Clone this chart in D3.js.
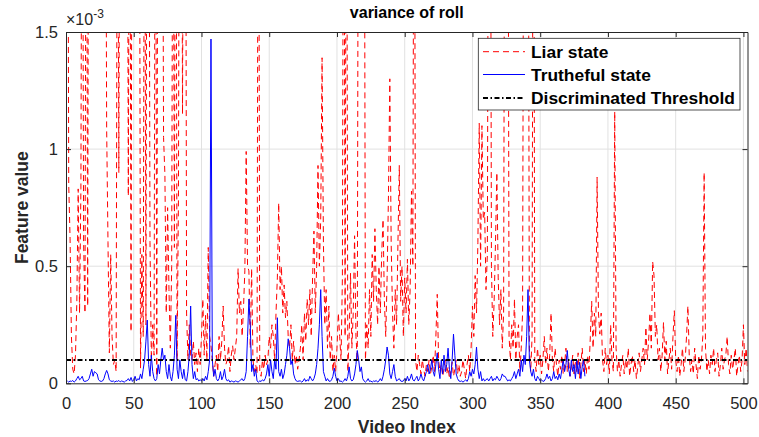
<!DOCTYPE html>
<html>
<head>
<meta charset="utf-8">
<script src="https://cdn.jsdelivr.net/npm/d3@7"></script>
<style>
  body { margin: 0; background: #fff; }
  text { font-family: "Liberation Sans", Arial, Helvetica, sans-serif; }
</style>
</head>
<body>
<svg id="chart" width="759" height="437"></svg>
<script>
// feature values, in units of 1e-3 (video index 1..n)
const liar = [
  3.4, 0.85, 0.62, 0.2, 0.06, 0.04, 0.12, 0.35, 0.83, 0.3,
  0.83, 3.1, 0.6, 0.3, 2.9, 0.33, 3.6, 4.2, 3.8, 4.5,
  3.9, 3.6, 4.4, 3.2, 4.8, 3.5, 4.1, 3.7, 3.0, 1.09, 0.6,
  0.13, 0.55, 0.2, 0.08, 0.1, 0.05, 2.8, 0.9, 3.3, 4.0,
  3.6, 4.3, 3.8, 3.1, 0.8, 2.9, 0.22, 3.2, 4.1, 3.7,
  4.4, 3.9, 3.0, 0.065, 0.55, 0.2, 2.7, 0.25, 3.3, 3.1,
  0.6, 0.1, 0.25, 0.12, 2.9, 0.03, 3.2, 3.9, 3.5, 3.0,
  1.05, 0.89, 0.3, 0.75, 0.4, 0.15, 0.5, 2.8, 0.58, 3.1,
  0.1, 0.79, 3.4, 3.2, 1.15, 3.0, 3.6, 0.3, 0.1, 0.25,
  0.12, 0.1, 0.18, 0.08, 0.13, 0.05, 0.15, 0.08, 0.2, 0.36,
  0.12, 0.29, 0.1, 0.58, 0.2, 0.16, 0.1, 0.03, 0.08, 0.12,
  0.05, 0.2, 0.1, 0.18, 0.33, 0.15, 0.08, 0.1, 0.16, 0.05,
  0.12, 0.16, 0.1, 0.15, 0.2, 0.49, 0.3, 0.35, 0.2, 0.32,
  0.48, 0.99, 0.5, 0.48, 0.15, 0.49, 0.1, 0.05, 0.08, 0.04,
  3.2, 0.05, 0.03, 0.1, 0.06, 0.12, 0.08, 0.1, 0.2, 0.15,
  0.25, 0.2, 0.1, 0.3, 0.45, 0.77, 0.4, 0.5, 0.3, 0.42,
  0.28, 0.35, 0.2, 0.15, 0.25, 0.1, 0.18, 0.08, 0.12, 0.06, 0.1,
  0.15, 0.25, 0.1, 0.3, 0.18, 0.36, 0.25, 0.4, 0.2, 0.45,
  0.65, 0.3, 0.5, 0.93, 0.5, 0.7, 1.39, 0.6, 0.25, 0.4,
  0.15, 0.33, 0.1, 0.2, 0.05, 0.12, 0.05, 0.15, 0.3, 0.2,
  0.1, 0.45, 3.1, 0.2, 2.9, 0.05, 0.2, 0.47, 0.15, 0.3,
  0.63, 0.2, 0.1, 3.3, 3.8, 4.2, 3.6, 3.0, 0.1, 0.25,
  0.15, 0.4, 0.2, 0.55, 0.35, 0.66, 0.4, 0.25, 0.5, 0.3,
  0.55, 0.7, 0.35, 0.2, 0.45, 0.8, 1.3, 0.6, 0.3, 0.15,
  0.4, 0.25, 0.6, 0.93, 0.35, 0.5, 0.2, 0.45, 0.3, 0.53,
  0.25, 0.4, 0.82, 0.5, 3.2, 0.1, 0.05, 0.12, 0.08, 0.04,
  0.1, 0.06, 0.03, 0.08, 0.05, 0.1, 0.04, 0.07, 0.12, 0.05,
  0.2, 0.38, 0.1, 0.05, 0.08, 0.03, 0.06, 0.1, 0.04, 0.07,
  0.02, 0.05, 0.09, 0.03, 0.06, 0.1, 0.04, 0.08, 0.03, 0.05,
  0.1, 0.06, 0.02, 0.08, 0.12, 0.05, 0.15, 0.33, 0.2, 0.46,
  0.3, 0.6, 1.11, 0.5, 1.1, 0.7, 0.73, 0.4, 0.55, 3.0,
  3.4, 0.5, 0.2, 0.35, 0.6, 0.9, 0.45, 0.25, 0.4, 0.15,
  0.3, 3.1, 3.7, 3.3, 0.2, 0.1, 0.25, 0.15, 0.36, 0.1, 0.2,
  0.25, 0.05, 0.15, 0.3, 2.9, 3.5, 3.2, 3.0, 0.15, 0.05,
  0.2, 3.1, 0.1, 0.05, 0.15, 0.08, 0.12, 0.04, 0.1, 0.2,
  0.08, 0.15, 0.05, 0.12, 0.3, 0.1, 0.05, 0.15, 0.08, 0.03,
  0.1, 0.06, 0.12, 0.04, 0.08, 0.15, 0.05, 0.1, 0.03, 0.07,
  0.12, 0.04, 0.09, 0.05, 0.13, 0.02, 0.08, 0.15, 0.05, 0.1,
  0.04, 0.12, 0.06, 0.2, 0.35, 0.15, 0.3, 0.2, 0.88, 0.3,
  0.21, 0.3, 0.1, 0.05, 0.15, 0.08, 0.12, 0.04, 0.25, 0.1,
  0.05, 1.16, 0.15, 0.05, 0.1, 0.03, 0.08, 0.12, 0.04, 0.1,
  0.06, 0.15, 0.03, 0.08, 0.12, 0.05, 0.1, 0.02, 0.07, 0.13,
  0.05, 0.1, 0.15, 0.08, 0.24, 0.1, 0.18, 0.3, 0.15, 0.52,
  0.46, 0.2, 0.25, 0.1, 0.15, 0.05, 0.12, 0.26, 0.1, 0.18,
  0.04, 0.1, 0.15, 0.06, 0.2, 0.31, 0.1, 0.05, 0.12, 0.03,
  0.08, 0.15, 0.05, 0.1, 0.2, 0.33, 0.12, 0.05, 0.1, 0.04,
  0.15, 0.08, 0.02, 0.12, 0.06, 0.1, 0.2, 0.9, 0.15, 0.05,
  0.1, 0.04, 0.12, 0.08, 0.15, 0.05, 0.1, 0.13, 0.03, 0.08,
  0.15, 0.06, 0.1, 0.12, 0.2, 0.08, 0.04, 0.12, 0.06, 0.1,
  0.15, 0.03, 0.08, 0.12, 0.05, 0.1, 0.25, 0.08, 0.15, 0.05
];

const truth = [
  0.01, 0.005, 0.01, 0.008, 0.012, 0.005, 0.01, 0.02, 0.03, 0.015,
  0.02, 0.03, 0.01, 0.008, 0.01, 0.012, 0.02, 0.04, 0.06, 0.03,
  0.05, 0.045, 0.04, 0.015, 0.01, 0.008, 0.01, 0.02, 0.04, 0.055, 0.04,
  0.015, 0.01, 0.008, 0.01, 0.005, 0.01, 0.008, 0.012, 0.006, 0.01,
  0.008, 0.005, 0.01, 0.012, 0.02, 0.01, 0.025, 0.008, 0.015, 0.03,
  0.01, 0.02, 0.015, 0.04, 0.02, 0.06, 0.1, 0.18, 0.27, 0.08,
  0.03, 0.12, 0.05, 0.02, 0.01, 0.02, 0.08, 0.04, 0.1, 0.15,
  0.1, 0.12, 0.05, 0.02, 0.08, 0.03, 0.01, 0.05, 0.12, 0.29,
  0.06, 0.02, 0.1, 0.05, 0.02, 0.06, 0.015, 0.01, 0.05, 0.12,
  0.33, 0.08, 0.02, 0.05, 0.015, 0.02, 0.01, 0.015, 0.01, 0.02,
  0.01, 0.03, 0.015, 0.05, 0.1, 1.47, 0.1, 0.03, 0.06, 0.02,
  0.01, 0.02, 0.05, 0.015, 0.03, 0.06, 0.02, 0.01, 0.015, 0.005,
  0.01, 0.008, 0.005, 0.01, 0.008, 0.005, 0.01, 0.015, 0.02, 0.01,
  0.02, 0.05, 0.2, 0.36, 0.25, 0.05, 0.08, 0.03, 0.06, 0.01,
  0.005, 0.01, 0.008, 0.015, 0.01, 0.02, 0.04, 0.08, 0.03, 0.1,
  0.05, 0.02, 0.1, 0.06, 0.28, 0.05, 0.03, 0.06, 0.02, 0.04,
  0.08, 0.12, 0.19, 0.15, 0.08, 0.1, 0.04, 0.02, 0.01, 0.008, 0.01,
  0.01, 0.005, 0.01, 0.02, 0.008, 0.015, 0.01, 0.03, 0.02, 0.01,
  0.02, 0.04, 0.08, 0.15, 0.25, 0.4, 0.2, 0.05, 0.03, 0.01,
  0.02, 0.01, 0.008, 0.015, 0.03, 0.065, 0.03, 0.01, 0.02, 0.008,
  0.01, 0.005, 0.01, 0.02, 0.01, 0.03, 0.07, 0.02, 0.01, 0.015,
  0.04, 0.08, 0.14, 0.1, 0.05, 0.07, 0.02, 0.01, 0.005, 0.01,
  0.02, 0.008, 0.01, 0.005, 0.01, 0.008, 0.012, 0.005, 0.01, 0.02,
  0.01, 0.03, 0.06, 0.1, 0.155, 0.12, 0.04, 0.02, 0.05, 0.08,
  0.03, 0.01, 0.015, 0.02, 0.01, 0.008, 0.01, 0.02, 0.01, 0.03,
  0.01, 0.02, 0.04, 0.015, 0.01, 0.02, 0.03, 0.01, 0.02, 0.04,
  0.02, 0.01, 0.03, 0.05, 0.08, 0.04, 0.06, 0.1, 0.05, 0.03,
  0.08, 0.13, 0.06, 0.02, 0.1, 0.04, 0.12, 0.05, 0.08, 0.15,
  0.06, 0.02, 0.1, 0.21, 0.12, 0.04, 0.02, 0.01, 0.008, 0.01,
  0.005, 0.01, 0.015, 0.008, 0.02, 0.05, 0.03, 0.06, 0.04, 0.08,
  0.155, 0.06, 0.02, 0.05, 0.01, 0.02, 0.01, 0.015, 0.02, 0.01,
  0.02, 0.03, 0.01, 0.02, 0.015, 0.03, 0.02, 0.01, 0.02, 0.04, 0.03,
  0.03, 0.02, 0.01, 0.015, 0.01, 0.02, 0.03, 0.05, 0.02, 0.04,
  0.06, 0.03, 0.1, 0.05, 0.12, 0.08, 0.2, 0.4, 0.1, 0.05,
  0.03, 0.06, 0.02, 0.01, 0.03, 0.02, 0.01, 0.015, 0.008, 0.01,
  0.02, 0.04, 0.02, 0.03, 0.01, 0.02, 0.05, 0.02, 0.03, 0.015,
  0.04, 0.02, 0.06, 0.1, 0.05, 0.08, 0.14, 0.06, 0.03, 0.1,
  0.05, 0.08, 0.02, 0.1, 0.04, 0.09, 0.02, 0.07, 0.1, 0.03
];

const threshold = 0.1;
const xTicks = [0, 50, 100, 150, 200, 250, 300, 350, 400, 450, 500];
const yTicks = [0, 0.5, 1, 1.5];
const legendNames = ['Liar state', 'Trutheful state', 'Discriminated Threshold'];

const W = 759, H = 437;
const margin = { top: 32, right: 11.5, bottom: 53.7, left: 66 };
const xMax = 503;
const axisColor = '#262626';

const svg = d3.select('#chart');

const x = d3.scaleLinear().domain([0, xMax]).range([margin.left, W - margin.right]);
const y = d3.scaleLinear().domain([0, 1.5]).range([H - margin.bottom, margin.top]);

// grid lines
const grid = svg.append('g').attr('stroke', '#e1e1e1').attr('stroke-width', 1);
grid.selectAll('line.gx').data(xTicks.slice(1)).enter().append('line')
    .attr('x1', d => x(d)).attr('x2', d => x(d))
    .attr('y1', y(0)).attr('y2', y(1.5));
grid.selectAll('line.gy').data(yTicks.slice(1, -1)).enter().append('line')
    .attr('x1', x(0)).attr('x2', x(xMax))
    .attr('y1', d => y(d)).attr('y2', d => y(d));

// clip the series to the plot box
svg.append('clipPath').attr('id', 'plotclip')
  .append('rect')
    .attr('x', x(0)).attr('y', y(1.5))
    .attr('width', x(xMax) - x(0)).attr('height', y(0) - y(1.5));

const plot = svg.append('g').attr('clip-path', 'url(#plotclip)');

const line = d3.line()
    .x((d, i) => x(i + 1))
    .y(d => y(d));

plot.append('path')
    .datum(liar)
    .attr('fill', 'none')
    .attr('stroke', '#ff0000')
    .attr('stroke-width', 1)
    .attr('stroke-dasharray', '6,4')
    .attr('d', line);

plot.append('path')
    .datum(truth)
    .attr('fill', 'none')
    .attr('stroke', '#0000ff')
    .attr('stroke-width', 1)
    .attr('d', line);

plot.append('line')
    .attr('x1', x(0)).attr('x2', x(xMax))
    .attr('y1', y(threshold)).attr('y2', y(threshold))
    .attr('stroke', '#000')
    .attr('stroke-width', 2)
    .attr('stroke-dasharray', '5,2.5,1.5,2.5');

// axes (MATLAB style: box, ticks inside)
function styleAxis(g) {
  g.select('.domain').attr('stroke', axisColor);
  g.selectAll('.tick line').attr('stroke', axisColor);
  g.selectAll('.tick text').attr('fill', axisColor).style('font-size', '16.5px');
}

svg.append('g')
    .attr('transform', `translate(0,${y(0)})`)
    .call(d3.axisBottom(x).tickValues(xTicks).tickSize(-5).tickSizeOuter(0).tickPadding(14))
    .call(styleAxis);

svg.append('g')
    .attr('transform', `translate(0,${y(1.5)})`)
    .call(d3.axisTop(x).tickValues(xTicks).tickSize(-5).tickSizeOuter(0).tickFormat(''))
    .call(styleAxis);

svg.append('g')
    .attr('transform', `translate(${x(0)},0)`)
    .call(d3.axisLeft(y).tickValues(yTicks).tickSize(-5).tickSizeOuter(0).tickPadding(8)
      .tickFormat(d3.format('~g')))
    .call(styleAxis);

svg.append('g')
    .attr('transform', `translate(${x(xMax)},0)`)
    .call(d3.axisRight(y).tickValues(yTicks).tickSize(-5).tickSizeOuter(0).tickFormat(''))
    .call(styleAxis);

// exponent label
const expo = svg.append('text')
    .attr('x', x(0)).attr('y', 25)
    .attr('fill', axisColor)
    .style('font-size', '16px');
expo.append('tspan').text('\u00d710');
expo.append('tspan').attr('dy', -7).style('font-size', '12px').text('-3');

// title and axis labels
svg.append('text')
    .attr('x', (x(0) + x(xMax)) / 2).attr('y', 18)
    .attr('text-anchor', 'middle')
    .style('font-size', '16px').style('font-weight', 'bold')
    .attr('fill', '#000')
    .text('variance of roll');

svg.append('text')
    .attr('x', (x(0) + x(xMax)) / 2).attr('y', 433)
    .attr('text-anchor', 'middle')
    .style('font-size', '17.5px').style('font-weight', 'bold')
    .attr('fill', axisColor)
    .text('Video Index');

svg.append('text')
    .attr('transform', `translate(28,${(y(0) + y(1.5)) / 2}) rotate(-90)`)
    .attr('text-anchor', 'middle')
    .style('font-size', '17.5px').style('font-weight', 'bold')
    .attr('fill', axisColor)
    .text('Feature value');

// legend
const legend = svg.append('g');
legend.append('rect')
    .attr('x', 478.3).attr('y', 38.3)
    .attr('width', 261.7).attr('height', 71.7)
    .attr('fill', '#fff')
    .attr('stroke', axisColor).attr('stroke-width', 0.8);

const legendStyles = [
  { stroke: '#ff0000', width: 1, dash: '6,4' },
  { stroke: '#0000ff', width: 1, dash: null },
  { stroke: '#000', width: 2, dash: '5,2.5,1.5,2.5' }
];
const rowY = [51.7, 74.5, 98];

legendNames.forEach((name, i) => {
  legend.append('line')
      .attr('x1', 483).attr('x2', 525)
      .attr('y1', rowY[i]).attr('y2', rowY[i])
      .attr('stroke', legendStyles[i].stroke)
      .attr('stroke-width', legendStyles[i].width)
      .attr('stroke-dasharray', legendStyles[i].dash);
  legend.append('text')
      .attr('x', 531).attr('y', rowY[i] + 6.3)
      .style('font-size', '17.4px').style('font-weight', 'bold')
      .attr('fill', '#000')
      .text(name);
});
</script>
</body>
</html>
